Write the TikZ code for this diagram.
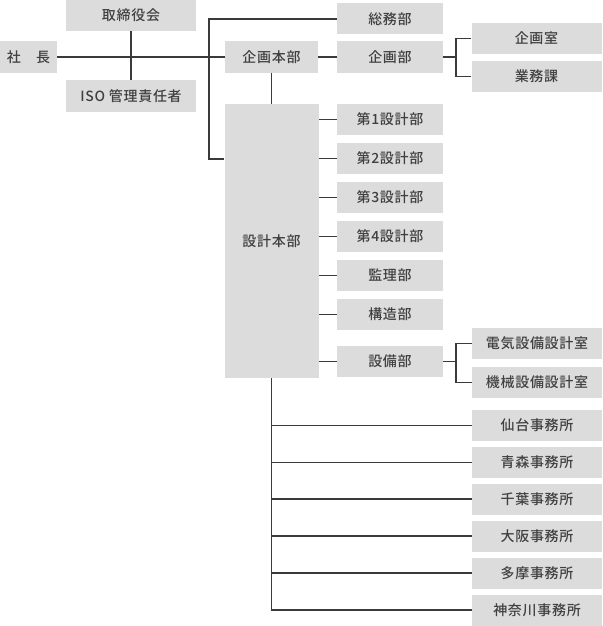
\documentclass[tikz,border=0pt]{standalone}
\usepackage{fontspec}
\setmainfont[LetterSpace=5,UprightFont={* Medium}]{Noto Sans CJK JP}
\usepackage{tikz}
\usetikzlibrary{positioning}
\usepackage{xcolor}
\definecolor{boxgray}{HTML}{DCDCDC}
\definecolor{linegray}{HTML}{3A3A3A}
\definecolor{textgray}{HTML}{404040}
\tikzset{
  unit/.style={fill=boxgray, text=textgray, inner sep=0pt, minimum height=31pt,
    font=\fontsize{14}{16}\selectfont},
  dept/.style={unit, minimum width=106pt},
  office/.style={unit, minimum width=130pt},
  link/.style={draw=linegray, line width=1.7pt}
}

\begin{document}
\begin{tikzpicture}[x=1pt,y=-1pt,node distance=39pt,on grid]
   \useasboundingbox (0,0) rectangle (602,626);
   \node[unit, minimum width=57pt] (pres) at (28.5,57) {社　長};
   \node[unit, minimum width=130pt] (board) at (131,15.5) {取締役会};
   \node[unit, minimum width=130pt, minimum height=32pt] (iso) at (131,96) {ISO 管理責任者};
   \node[unit, minimum width=93pt] (planhq) at (271.5,57) {企画本部};
   \node[unit, minimum width=94pt, minimum height=274pt] (designhq) at (271.5,241) {設計本部};
   \node[dept] (general) at (390,19) {総務部};
   \node[dept] (planning) at (390,57) {企画部};
   \node[office] (planroom) at (536.5,38.5) {企画室};
   \node[office] (business) at (536.5,76.5) {業務課};
   \node[dept] (design1) at (390,119.5) {第1設計部};
   \node[dept] (design2) [below=of design1] {第2設計部};
   \node[dept] (design3) [below=of design2] {第3設計部};
   \node[dept] (design4) [below=of design3] {第4設計部};
   \node[dept] (supervise) [below=of design4] {監理部};
   \node[dept] (structure) [below=of supervise] {構造部};
   \node[dept] (equipment) [below=47pt of structure] {設備部};
   \node[office] (electric) at (537,343.5) {電気設備設計室};
   \node[office] (mechanic) [below=of electric] {機械設備設計室};
   \node[office] (sendai) at (537,425.5) {仙台事務所};
   \node[office] (aomori) [below=36.9pt of sendai] {青森事務所};
   \node[office] (chiba) [below=36.9pt of aomori] {千葉事務所};
   \node[office] (osaka) [below=36.9pt of chiba] {大阪事務所};
   \node[office] (tama) [below=36.9pt of osaka] {多摩事務所};
   \node[office] (kanagawa) [below=36.9pt of tama] {神奈川事務所};
   \coordinate (trunk) at (209,159);
   \coordinate[right=13pt of planning.east] (planjoint);
   \coordinate[right=13pt of equipment.east] (equipjoint);
    \path[link]
    (pres) edge (planhq)
    (board) edge (iso)
    (planhq) edge (planning)
    (planhq) edge (designhq)
    (planning) edge (planjoint)
    (equipment) edge (equipjoint)
    (design1) edge (design1 -| designhq.east)
    (design2) edge (design2 -| designhq.east)
    (design3) edge (design3 -| designhq.east)
    (design4) edge (design4 -| designhq.east)
    (supervise) edge (supervise -| designhq.east)
    (structure) edge (structure -| designhq.east)
    (equipment) edge (equipment -| designhq.east)
    (sendai) edge (sendai -| designhq.south)
    (aomori) edge (aomori -| designhq.south)
    (chiba) edge (chiba -| designhq.south)
    (osaka) edge (osaka -| designhq.south)
    (tama) edge (tama -| designhq.south);
   \draw[link] (general) -| (trunk) -- (trunk -| designhq.west);
   \draw[link] (planroom) -| (planjoint) |- (business);
   \draw[link] (electric) -| (equipjoint) |- (mechanic);
   \draw[link] (designhq) |- (kanagawa);
\end{tikzpicture}
\end{document}
